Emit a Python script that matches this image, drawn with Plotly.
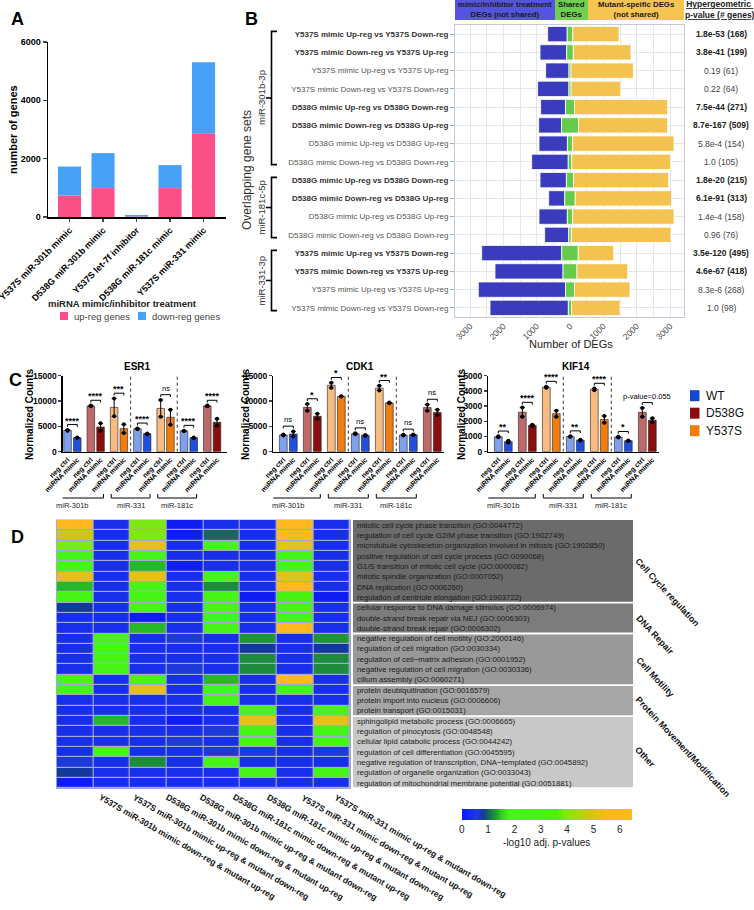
import plotly.graph_objects as go

W, H = 754, 910
FONT = "Liberation Sans, Arial, sans-serif"


def X(p):
    return p / W


def Y(p):
    return 1 - p / H


def xdom(a, b):
    return [a / W, b / W]


def ydom(top, bot):
    return [1 - bot / H, 1 - top / H]


# ---------------- Panel A data ----------------
a_treatments = ["Y537S miR-301b mimic", "D538G miR-301b mimic", "Y537S let-7f inhibitor",
                "D538G miR-181c mimic", "Y537S miR-331 mimic"]
a_up_genes = [740, 990, 20, 990, 2870]
a_down_genes = [990, 1200, 50, 790, 2440]

# ---------------- Panel B data ----------------
b_gene_sets = [
    "Y537S mimic Up-reg vs Y537S Down-reg", "Y537S mimic Down-reg vs Y537S Up-reg",
    "Y537S mimic Up-reg vs Y537S Up-reg", "Y537S mimic Down-reg vs Y537S Down-reg",
    "D538G mimic Up-reg vs D538G Down-reg", "D538G mimic Down-reg vs D538G Up-reg",
    "D538G mimic Up-reg vs D538G Up-reg", "D538G mimic Down-reg vs D538G Down-reg",
    "D538G mimic Up-reg vs D538G Down-reg", "D538G mimic Down-reg vs D538G Up-reg",
    "D538G mimic Up-reg vs D538G Up-reg", "D538G mimic Down-reg vs D538G Down-reg",
    "Y537S mimic Up-reg vs Y537S Down-reg", "Y537S mimic Down-reg vs Y537S Up-reg",
    "Y537S mimic Up-reg vs Y537S Up-reg", "Y537S mimic Down-reg vs Y537S Down-reg"]
b_significant = [True, True, False, False, True, True, False, False,
                 True, True, False, False, True, True, False, False]
b_treatment_only = [586, 800, 700, 940, 745, 685, 853, 1097, 792, 483, 851, 722, 2402, 2041, 2616, 2350]
b_shared = [168, 199, 61, 64, 271, 509, 154, 105, 215, 313, 158, 76, 495, 418, 268, 98]
b_mutant_only = [1386, 1730, 1870, 1490, 2795, 2675, 3043, 2967, 2852, 2893, 3041, 2992, 1062, 1521, 1666, 1450]
b_pvalues = ["1.8e-53", "3.8e-41", "0.19", "0.22", "7.5e-44", "8.7e-167", "5.8e-4", "1.0",
             "1.8e-20", "6.1e-91", "1.4e-4", "0.96", "3.5e-120", "4.6e-67", "8.3e-6", "1.0"]
b_groups = ["miR-301b-3p", "miR-181c-5p", "miR-331-3p"]
b_group_rows = [(0, 7), (8, 11), (12, 15)]

# ---------------- Panel C data ----------------
c_bar_labels = ["neg ctrl", "miRNA mimic"] * 7
c_genotypes = ["WT", "WT", "D538G", "D538G", "Y537S", "Y537S",
               "WT", "WT", "Y537S", "Y537S",
               "WT", "WT", "D538G", "D538G"]
c_groups = ["miR-301b", "miR-331", "miR-181c"]
c_group_pairs = [(0, 2), (3, 4), (5, 6)]
esr1_rep1 = [4150, 2700, 8950, 5600, 10500, 5400, 4450, 3450, 10200, 8300, 4050, 2700, 8950, 6500]
esr1_rep2 = [4300, 2800, 9100, 4150, 7000, 3700, 4600, 3600, 6900, 5300, 4150, 2800, 9100, 5100]
cdk1_rep1 = [3200, 4000, 9400, 7500, 13600, 10900, 3450, 3150, 13000, 9550, 3200, 3300, 9300, 8300]
cdk1_rep2 = [3400, 3000, 8100, 6500, 12600, 10950, 3650, 3300, 12100, 9700, 3350, 3400, 8100, 7200]
kif14_rep1 = [950, 600, 2900, 1680, 4200, 2700, 980, 740, 4050, 2350, 940, 700, 2880, 2200]
kif14_rep2 = [1010, 720, 2300, 1780, 4280, 2300, 1020, 780, 4150, 1900, 980, 740, 2300, 1950]
esr1_sig = ["****", "****", "***", "****", "ns", "****", "****"]
cdk1_sig = ["ns", "*", "*", "ns", "**", "ns", "ns"]
kif14_sig = ["**", "****", "****", "**", "****", "*", "p-value=0.055"]

# ---------------- Panel D data ----------------
d_columns = [
    "Y537S miR-301b mimic down-reg & mutant up-reg",
    "Y537S miR-301b mimic up-reg & mutant down-reg",
    "D538G miR-301b mimic down-reg & mutant up-reg",
    "D538G miR-301b mimic up-reg & mutant down-reg",
    "D538G miR-181c mimic down-reg & mutant up-reg",
    "D538G miR-181c mimic up-reg & mutant down-reg",
    "Y537S miR-331 mimic down-reg & mutant up-reg",
    "Y537S miR-331 mimic up-reg & mutant down-reg"]
d_terms = [
    "mitotic cell cycle phase transition (GO:0044772)",
    "regulation of cell cycle G2/M phase transition (GO:1902749)",
    "microtubule cytoskeleton organization involved in mitosis (GO:1902850)",
    "positive regulation of cell cycle process (GO:0090068)",
    "G1/S transition of mitotic cell cycle (GO:0000082)",
    "mitotic spindle organization (GO:0007052)",
    "DNA replication (GO:0006260)",
    "regulation of centriole elongation (GO:1903722)",
    "cellular response to DNA damage stimulus (GO:0006974)",
    "double-strand break repair via NEJ (GO:0006303)",
    "double-strand break repair (GO:0006302)",
    "negative regulation of cell motility (GO:2000146)",
    "regulation of cell migration (GO:0030334)",
    "regulation of cell\u2212matrix adhesion (GO:0001952)",
    "negative regulation of cell migration (GO:0030336)",
    "cilium assembly (GO:0060271)",
    "protein deubiquitination (GO:0016579)",
    "protein import into nucleus (GO:0006606)",
    "protein transport (GO:0015031)",
    "sphingolipid metabolic process (GO:0006665)",
    "regulation of pinocytosis (GO:0048548)",
    "cellular lipid catabolic process (GO:0044242)",
    "regulation of cell differentiation (GO:0045595)",
    "negative regulation of transcription, DNA\u2212templated (GO:0045892)",
    "regulation of organelle organization (GO:0033043)",
    "regulation of mitochondrial membrane potential (GO:0051881)"]
d_categories = ["Cell Cycle regulation", "DNA Repair", "Cell Motility",
                "Protein Movement/Modification", "Other"]
d_category_sizes = [8, 3, 5, 3, 7]
d_neglog10_p = [
    [6.0, 0.35, 3.9, 0.1, 0.35, 0.35, 6.0, 0.35],
    [4.8, 0.35, 3.9, 0.1, 1.0, 0.35, 6.0, 0.35],
    [3.9, 0.35, 5.2, 0.35, 2.5, 0.35, 5.1, 0.35],
    [2.5, 0.35, 2.5, 0.35, 0.35, 0.35, 2.5, 0.35],
    [2.5, 0.35, 1.4, 0.1, 0.35, 0.35, 2.5, 0.35],
    [5.2, 0.35, 5.2, 0.35, 2.5, 0.35, 5.1, 0.35],
    [1.4, 0.35, 2.5, 0.35, 1.2, 0.35, 6.0, 0.35],
    [2.5, 0.35, 2.5, 0.35, 2.5, 0.1, 3.5, 0.1],
    [0.8, 0.35, 2.5, 0.35, 2.5, 0.35, 2.5, 0.35],
    [0.35, 0.35, 0.1, 0.35, 2.5, 0.35, 2.5, 0.35],
    [0.35, 0.35, 1.4, 0.35, 2.5, 0.35, 6.0, 0.35],
    [0.35, 2.5, 0.35, 0.6, 0.35, 1.25, 0.35, 1.25],
    [0.35, 2.5, 0.35, 0.35, 0.35, 0.8, 0.35, 0.8],
    [0.35, 2.5, 0.35, 0.35, 0.35, 1.2, 0.35, 1.2],
    [0.35, 2.5, 0.35, 0.6, 0.35, 1.2, 0.35, 1.2],
    [2.5, 0.35, 2.5, 0.35, 1.4, 0.35, 6.0, 0.35],
    [2.5, 0.35, 5.2, 0.35, 2.5, 0.35, 2.5, 0.35],
    [0.35, 0.35, 0.35, 0.35, 2.5, 0.35, 0.35, 0.35],
    [0.35, 0.35, 0.35, 0.35, 0.35, 2.5, 0.35, 2.5],
    [0.35, 1.4, 0.35, 0.1, 0.35, 5.2, 0.35, 5.2],
    [0.35, 0.35, 0.35, 0.35, 0.6, 2.5, 0.35, 2.5],
    [0.35, 0.35, 0.35, 0.6, 0.35, 2.5, 0.35, 2.5],
    [0.35, 2.5, 0.35, 0.35, 0.6, 0.6, 0.35, 0.6],
    [0.6, 0.35, 1.2, 0.35, 2.5, 0.35, 0.35, 0.35],
    [0.8, 0.35, 0.35, 0.35, 0.35, 2.5, 0.35, 2.5],
    [0.1, 0.35, 0.35, 0.35, 0.35, 0.35, 0.35, 0.35]]

# ======================================================================
fig = go.Figure()
shapes = []
ann = []


def text(x, y, s, size=9, color="#222", bold=False, xanchor="center", yanchor="middle",
         angle=0, xref="paper", yref="paper"):
    ann.append(dict(x=x, y=y, xref=xref, yref=yref, text=s, showarrow=False,
                    xanchor=xanchor, yanchor=yanchor, textangle=angle,
                    font=dict(family=FONT, size=size, color=color,
                              weight="bold" if bold else "normal")))


# ---------------- Panel A ----------------
a_pos = list(range(len(a_treatments)))
fig.add_trace(go.Bar(x=a_pos, y=a_up_genes, width=0.69, marker=dict(color="#fb4f88", line_width=0),
                     xaxis="x", yaxis="y", showlegend=False))
fig.add_trace(go.Bar(x=a_pos, y=a_down_genes, base=a_up_genes, width=0.69,
                     marker=dict(color="#47a2f7", line_width=0),
                     xaxis="x", yaxis="y", showlegend=False))
text(X(9), Y(19), "A", size=18, bold=True, color="black", xanchor="left")
text(X(13), Y(130), "number of genes", size=11, bold=True, color="black", angle=-90)
text(X(122), Y(304), "miRNA mimic/inhibitor treatment", size=9.5, bold=True, color="#222")
shapes.append(dict(type="rect", xref="paper", yref="paper", x0=X(60), x1=X(68), y0=Y(320), y1=Y(312),
                   fillcolor="#fb4f88", line_width=0))
shapes.append(dict(type="rect", xref="paper", yref="paper", x0=X(138), x1=X(146), y0=Y(320), y1=Y(312),
                   fillcolor="#47a2f7", line_width=0))
text(X(72), Y(316), "up-reg genes", size=9.5, color="#444", xanchor="left")
text(X(150), Y(316), "down-reg genes", size=9.5, color="#444", xanchor="left")

# ---------------- Panel B ----------------
rows = list(range(len(b_gene_sets)))
half = [s / 2 for s in b_shared]
bar_line = dict(color="white", width=0.8)
fig.add_trace(go.Bar(y=rows, x=b_treatment_only, base=[-(h + t) for h, t in zip(half, b_treatment_only)],
                     orientation="h", width=0.84, marker=dict(color="#3b3bbd", line=bar_line),
                     xaxis="x2", yaxis="y2", showlegend=False))
fig.add_trace(go.Bar(y=rows, x=b_shared, base=[-h for h in half],
                     orientation="h", width=0.84, marker=dict(color="#63cc4a", line=bar_line),
                     xaxis="x2", yaxis="y2", showlegend=False))
fig.add_trace(go.Bar(y=rows, x=b_mutant_only, base=half,
                     orientation="h", width=0.84, marker=dict(color="#f4c24f", line=bar_line),
                     xaxis="x2", yaxis="y2", showlegend=False))
b_ticktext = [("<b>%s</b>" % s) if sig else ("<span style='color:#555'>%s</span>" % s)
              for s, sig in zip(b_gene_sets, b_significant)]
b_xt = list(range(-3000, 3001, 500))
text(X(243), Y(19), "B", size=18, bold=True, color="black", xanchor="left")
for x0, x1, col, lab in [(455, 555, "#5454e0", "mimic/inhibitor treatment<br>DEGs (not shared)"),
                         (555, 588, "#6fcf4f", "Shared<br>DEGs"),
                         (588, 684, "#f5c451", "Mutant-speific DEGs<br>(not shared)")]:
    shapes.append(dict(type="rect", xref="paper", yref="paper", x0=X(x0), x1=X(x1), y0=Y(20), y1=Y(0),
                       fillcolor=col, line_width=0))
    text(X((x0 + x1) / 2), Y(10), lab, size=7.8, bold=True, color="#1a1a1a")
text(X(720), Y(10), "<u>Hypergeometric </u><br><u>p-value (# genes)</u>", size=8.5, bold=True, color="#222")
for i, (p, s, sig) in enumerate(zip(b_pvalues, b_shared, b_significant)):
    text(X(721), i, "%s (%d)" % (p, s), size=8.5, bold=sig, color="#222" if sig else "#444", yref="y2")
text(X(571), Y(344), "Number of DEGs", size=11, color="#222")
text(X(247), Y(170), "Overlapping gene sets", size=12, color="#333", angle=-90)
for g, (r0, r1) in zip(b_groups, b_group_rows):
    ya, yb = r0 - 0.15, r1 + 0.15
    mid = (r0 + r1) / 2
    shapes.append(dict(type="path", xref="paper", yref="y2",
                       path="M %f %f L %f %f L %f %f L %f %f" % (X(277), ya, X(271.5), ya, X(271.5), yb, X(277), yb),
                       line=dict(color="black", width=1.6)))
    shapes.append(dict(type="line", xref="paper", yref="y2", x0=X(266), x1=X(271.5), y0=mid, y1=mid,
                       line=dict(color="black", width=1.6)))
    text(X(261), mid, g, size=9.5, color="#333", angle=-90, yref="y2")

# ---------------- Panel C ----------------
u = []
for i in range(7):
    u += [i * 2.4, i * 2.4 + 1]
shade = {("WT", 0): "#7fa0ec", ("WT", 1): "#1f4fdc",
         ("D538G", 0): "#bf6a6a", ("D538G", 1): "#8b0d0d",
         ("Y537S", 0): "#f8bb82", ("Y537S", 1): "#ef7d10"}
bar_cols = [shade[(g, k % 2)] for k, g in enumerate(c_genotypes)]
genes = [("ESR1", esr1_rep1, esr1_rep2, esr1_sig, "3", 15000, 5000, [62.7, 226.7], [-0.5, 16.4], 137, 30),
         ("CDK1", cdk1_rep1, cdk1_rep2, cdk1_sig, "4", 15000, 5000, [273.3, 444.3], [-1, 16.1], 360, 246),
         ("KIF14", kif14_rep1, kif14_rep2, kif14_sig, "5", 5000, 1000, [488.3, 659], [-1, 16.07], 576, 462)]
layout_axes = {}
for name, r1, r2, sig, ax, ymax, dt, xd, xr, tx, ytx in genes:
    means = [(a + b) / 2 for a, b in zip(r1, r2)]
    errs = [abs(a - b) / 2 for a, b in zip(r1, r2)]
    fig.add_trace(go.Bar(x=u, y=means, width=0.78,
                         marker=dict(color=bar_cols, line=dict(color="#222", width=0.6)),
                         error_y=dict(type="data", array=errs, color="black", thickness=1, width=2.5),
                         xaxis="x" + ax, yaxis="y" + ax, showlegend=False))
    fig.add_trace(go.Scatter(x=u + u, y=r1 + r2, mode="markers",
                             marker=dict(color="black", size=4),
                             xaxis="x" + ax, yaxis="y" + ax, showlegend=False))
    layout_axes["xaxis" + ax] = dict(domain=xdom(*xd), anchor="y" + ax, range=xr, tickvals=u,
                                     ticktext=c_bar_labels, tickangle=-45, automargin=False,
                                     ticklabeloverflow="allow",
                                     tickfont=dict(family=FONT, size=7, color="black", weight="bold"),
                                     showline=True, linecolor="black", linewidth=1.3, ticks="",
                                     showgrid=False, zeroline=False)
    layout_axes["yaxis" + ax] = dict(domain=ydom(375.7, 451.7), anchor="x" + ax, range=[0, ymax],
                                     tickvals=list(range(0, ymax + 1, dt)), tickformat="d", automargin=False,
                                     ticklabeloverflow="allow",
                                     tickfont=dict(family=FONT, size=8.5, color="black", weight="bold"),
                                     showline=True, linecolor="black", linewidth=1.3, ticks="outside",
                                     ticklen=3, tickwidth=1.3, showgrid=False, zeroline=False)
    text(X(tx), Y(366), name, size=10, bold=True, color="black")
    text(X(ytx), Y(414), "Normalized Counts", size=10, bold=True, color="black", angle=-90)
    for xs in [(u[5] + u[6]) / 2, (u[9] + u[10]) / 2]:
        shapes.append(dict(type="line", xref="x" + ax, yref="y" + ax, x0=xs, x1=xs, y0=0, y1=ymax,
                           line=dict(color="#333", width=1, dash="dot")))
    for p, lab in enumerate(sig):
        x0, x1 = u[2 * p], u[2 * p + 1]
        ybr = max(r1[2 * p], r2[2 * p], r1[2 * p + 1], r2[2 * p + 1]) + 0.07 * ymax
        d = 0.03 * ymax
        shapes.append(dict(type="path", xref="x" + ax, yref="y" + ax,
                           path="M %f %f L %f %f L %f %f L %f %f" % (x0, ybr - d, x0, ybr, x1, ybr, x1, ybr - d),
                           line=dict(color="black", width=1)))
        star = "*" in lab and "p-value" not in lab
        ann.append(dict(x=(x0 + x1) / 2, y=ybr, xref="x" + ax, yref="y" + ax, text=lab, showarrow=False,
                        xanchor="center", yanchor="bottom", yshift=-3 if star else 0,
                        font=dict(family=FONT, size=9 if star else 7.5, color="black",
                                  weight="bold" if star else "normal")))
    for g, (p0, p1) in zip(c_groups, c_group_pairs):
        xa, xb = u[2 * p0] - 2.7, u[2 * p1 + 1] - 2.1
        shapes.append(dict(type="path", xref="x" + ax, yref="paper",
                           path="M %f %f L %f %f L %f %f L %f %f" % (xa, Y(494), xa, Y(498), xb, Y(498), xb, Y(494)),
                           line=dict(color="black", width=1)))
        text((u[2 * p0] + u[2 * p1 + 1]) / 2 - 2.4, Y(505), g, size=7.5, color="#222", xref="x" + ax)
text(X(7), Y(380), "C", size=18, bold=True, color="black", xanchor="left")
for i, (g, col) in enumerate([("WT", "#1446d6"), ("D538G", "#8b0c0c"), ("Y537S", "#f07d0c")]):
    yc = 395.7 + i * 17.5
    shapes.append(dict(type="rect", xref="paper", yref="paper", x0=X(690), x1=X(699.5),
                       y0=Y(yc + 5.5), y1=Y(yc - 5.5), fillcolor=col, line_width=0))
    text(X(704), Y(yc), g, size=12, color="#111", xanchor="left")

# ---------------- Panel D ----------------
d_scale = [
    [0.0, "#0a18f5"], [0.55, "#1e3ae6"], [0.7, "#1a3ac0"], [0.8, "#123a9c"], [0.95, "#1a5a6e"],
    [1.1, "#1a7848"], [1.3, "#1fa030"], [1.5, "#2fd020"], [1.8, "#40f818"], [3.6, "#4af012"],
    [3.9, "#7cea12"], [4.4, "#a8d814"], [4.8, "#cdc618"], [5.2, "#e6c018"], [5.5, "#ffb81e"],
    [6.45, "#ffb81e"]]
zmax = 6.45
colorscale = [[v / zmax, c] for v, c in d_scale]
ncol, nrow = len(d_columns), len(d_terms)
fig.add_trace(go.Heatmap(z=d_neglog10_p, x=list(range(ncol)), y=list(range(nrow)), zmin=0, zmax=zmax,
                         colorscale=colorscale, xgap=1.2, ygap=1.2, xaxis="x6", yaxis="y6",
                         hoverinfo="skip",
                         colorbar=dict(orientation="h", x=X(546.7), xanchor="center", y=Y(809), yanchor="top",
                                       len=170, lenmode="pixels", thickness=11, thicknessmode="pixels",
                                       xpad=0, ypad=0, outlinewidth=0, tickvals=list(range(7)), ticks="",
                                       tickfont=dict(family=FONT, size=10, color="#222"),
                                       title=dict(text="-log10 adj. p-values", side="bottom",
                                                  font=dict(family=FONT, size=10, color="#222")))))
shapes.append(dict(type="rect", xref="paper", yref="paper", x0=X(56), x1=X(351), y0=Y(789), y1=Y(519.5),
                   fillcolor="#a3a8d6", line_width=0, layer="below"))
text(X(9), Y(537), "D", size=18, bold=True, color="black", xanchor="left")
grays = ["#6b6b6b", "#7c7c7c", "#999999", "#a6a6a6", "#c8c8c8"]
start = 0
angle_centers = [(667, 592), (655, 635), (655, 677), (683, 747), (645, 757)]
for cat, n, gcol, (cx, cy) in zip(d_categories, d_category_sizes, grays, angle_centers):
    shapes.append(dict(type="rect", xref="paper", yref="y6", x0=X(353), x1=X(633),
                       y0=start - 0.5 + (0.09 if start else 0), y1=start + n - 0.5 - 0.09,
                       fillcolor=gcol, line_width=0, layer="below"))
    text(X(cx), Y(cy), cat, size=9, bold=True, color="#111", angle=47)
    start += n
for i, t in enumerate(d_terms):
    text(X(355), i, t, size=7.8, color="#1a1a1a", xanchor="left", yref="y6")
for k, lab in enumerate(d_columns):
    sx = 96.7 + 33.6 * k
    L = len(lab) * 4.65
    cx = sx + L / 2 * 0.866
    cy = 795 + L / 2 * 0.5
    text(X(cx), Y(cy), lab, size=8.5, bold=True, color="#111", angle=30)

fig.update_layout(
    width=W, height=H, autosize=False, margin=dict(l=0, r=0, t=0, b=0, autoexpand=False),
    paper_bgcolor="white", plot_bgcolor="rgba(0,0,0,0)", barmode="overlay", showlegend=False,
    font=dict(family=FONT),
    xaxis=dict(domain=xdom(48, 226), anchor="y", range=[-0.642, 4.67], tickvals=a_pos, ticktext=a_treatments,
               tickangle=-45, tickfont=dict(family=FONT, size=9, color="black", weight="bold"),
               showline=True, linecolor="black", linewidth=1.5, ticks="outside", ticklen=3, tickwidth=1.5,
               showgrid=False, zeroline=False, automargin=False, ticklabeloverflow="allow"),
    yaxis=dict(domain=ydom(42, 217), anchor="x", range=[0, 6000], tickvals=[0, 2000, 4000, 6000],
               tickfont=dict(family=FONT, size=9, color="black", weight="bold"),
               showline=True, linecolor="black", linewidth=1.5, ticks="outside", ticklen=4, tickwidth=1.5,
               showgrid=False, zeroline=False, automargin=False),
    xaxis2=dict(domain=xdom(455, 684), anchor="y2", range=[-3450, 3420], tickvals=b_xt,
                ticktext=[str(abs(v)) if v % 1000 == 0 else "" for v in b_xt], tickangle=-45,
                tickfont=dict(family=FONT, size=8.5, color="#444"), showgrid=True, gridcolor="#e3e6ee",
                zeroline=False, showline=True, mirror=True, linecolor="#c5cad8", ticks="", automargin=False),
    yaxis2=dict(domain=ydom(25, 317), anchor="x2", range=[15.5, -0.5], tickvals=rows, ticktext=b_ticktext,
                tickfont=dict(family=FONT, size=8, color="#333"), showgrid=True, gridcolor="#e3e6ee",
                showline=True, mirror=True, linecolor="#c5cad8", ticks="outside", ticklen=4,
                tickcolor="#aaa", zeroline=False, automargin=False),
    xaxis6=dict(domain=xdom(56.7, 350), anchor="y6", range=[-0.5, ncol - 0.5], showticklabels=False,
                showgrid=False, zeroline=False, showline=False, ticks="", automargin=False),
    yaxis6=dict(domain=ydom(520, 788.3), anchor="x6", range=[nrow - 0.5, -0.5], showticklabels=False,
                showgrid=False, zeroline=False, showline=False, ticks="", automargin=False),
    shapes=shapes, annotations=ann,
)
fig.update_layout(**layout_axes)
fig.write_html("out.html", config={"displayModeBar": False, "staticPlot": True},
               post_script="document.body.style.margin='0px';document.body.style.overflow='hidden';")
